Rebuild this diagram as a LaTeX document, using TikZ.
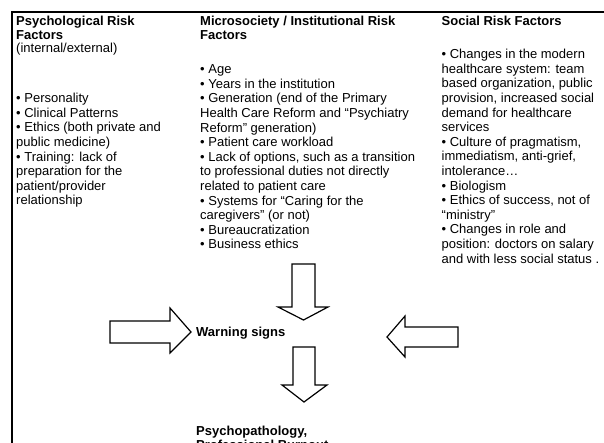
\documentclass[tikz,border=0pt]{standalone}
\usepackage{fontspec}
\setmainfont{Liberation Sans}

\tikzset{%
    frame/.style={%
        line width=2pt
    },
    riskhead/.style={%
        anchor=base west, align=left, inner sep=0pt, font=\fontsize{13}{13.6}\selectfont\bfseries
    },
    risklist/.style={%
        anchor=base west, align=left, inner sep=0pt, font=\fontsize{13}{14.6}\selectfont
    },
    bigarrow/.style={%
        draw, line width=1.2pt, fill=white, line join=miter
    },
}

\begin{document}
\begin{tikzpicture}[x=1pt, y=-1pt]
      \useasboundingbox (0,0) rectangle (604,443);
      \draw[frame] (608,12.3) -- (12.3,12.3) -- (12.3,447);

      % three columns of risk factors (nodes sit on their last baseline)
      \node[riskhead] (psyhead) at (16,39.6) {Psychological Risk\\Factors};
      \node[risklist] (psysub) at (16,52.6) {(internal/external)};
      \node[risklist] (psylist) at (16,205) {%
        • Personality\\
        • Clinical Patterns\\
        • Ethics (both private and\\
        public medicine)\\
        • Training: lack of\\
        preparation for the\\
        patient/provider\\
        relationship};

      \node[riskhead] (insthead) at (200,39.6) {Microsociety / Institutional Risk\\Factors};
      \node[risklist] (instlist) at (200,249) {%
        • Age\\
        • Years in the institution\\
        • Generation (end of the Primary\\
        Health Care Reform and “Psychiatry\\
        Reform” generation)\\
        • Patient care workload\\
        • Lack of options, such as a transition\\
        to professional duties not directly\\
        related to patient care\\
        • Systems for “Caring for the\\
        caregivers” (or not)\\
        • Bureaucratization\\
        • Business ethics};

      \node[riskhead] (sochead) at (441.5,26) {Social Risk Factors};
      \node[risklist] (soclist) at (441.5,263.2) {%
        • Changes in the modern\\
        healthcare system: team\\
        based organization, public\\
        provision, increased social\\
        demand for healthcare\\
        services\\
        • Culture of pragmatism,\\
        immediatism, anti-grief,\\
        intolerance…\\
        • Biologism\\
        • Ethics of success, not of\\
        “ministry”\\
        • Changes in role and\\
        position: doctors on salary\\
        and with less social status .};

      % outcome texts
      \node[riskhead] (warn) at (196,336.5) {Warning signs};
      \node[riskhead] (burnout) at (196,449.5) {Psychopathology,\\Professional Burnout};

      % block arrows
      \draw[bigarrow] (292,264) -- (315,264) -- (315,307) -- (328,307) -- (303.5,320)
            -- (278,307) -- (292,307) -- cycle;
      \draw[bigarrow] (293,347) -- (315,347) -- (315,385) -- (327,385) -- (304,402)
            -- (282,385) -- (293,385) -- cycle;
      \draw[bigarrow] (110,321) -- (170,321) -- (170,308) -- (191,332) -- (170,353)
            -- (170,343) -- (110,343) -- cycle;
      \draw[bigarrow] (458,327) -- (405,327) -- (405,316) -- (387,337) -- (405,357)
            -- (405,347) -- (458,347) -- cycle;
    \end{tikzpicture}
\end{document}
